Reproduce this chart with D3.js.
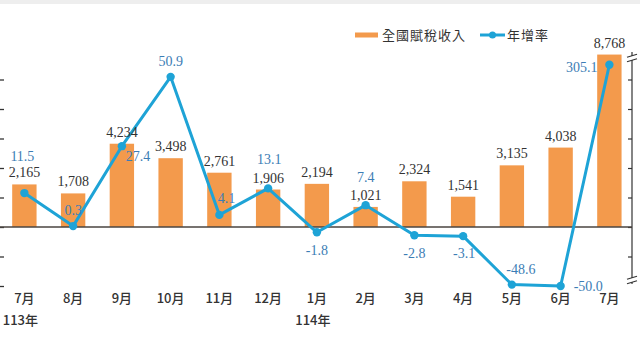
<!DOCTYPE html>
<html><head><meta charset="utf-8">
<script src="https://cdn.jsdelivr.net/npm/d3@7"></script>
<style>
html,body{margin:0;padding:0;background:#fff;}
svg{display:block;}
</style>
</head><body>
<svg id="chart" width="640" height="360"></svg>
<script>
// ---- data ----
const months = ["7月","8月","9月","10月","11月","12月","1月","2月","3月","4月","5月","6月","7月"];
const yearLabels = [{idx:0, text:"113年"}, {idx:6, text:"114年"}];
const revenue = [2165,1708,4234,3498,2761,1906,2194,1021,2324,1541,3135,4038,8768];
const growth  = [11.5,0.3,27.4,50.9,4.1,13.1,-1.8,7.4,-2.8,-3.1,-48.6,-50.0,305.1];
const barTicks = [-3000,-1500,0,1500,3000,4500,6000,7500];
const rateTicks = [-10,0,10,20,30,40,50];
const seriesNames = ["全國賦稅收入","年增率"];

// ---- layout ----
const svg = d3.select("#chart");
const W = 640, H = 360;
const plotTop = 50, plotBottom = 286, axisRightX = 632;
const barColor = "#F39A4C", lineColor = "#1EA3D6", rateText = "#3C7DB5", dark = "#333";

svg.append("rect").attr("x",0).attr("y",0).attr("width",W).attr("height",4).attr("fill","#eeeeee");

const x = d3.scaleBand().domain(d3.range(months.length)).range([0, 633.75]).paddingInner(0.5).paddingOuter(0.25);
const yBar = d3.scaleLinear().domain([-3000, 9000]).range([plotBottom, plotTop]);
const yr = d3.scaleLinear().domain([-20, 60]).range([plotBottom, plotTop]);
// broken rate axis: compressed segments below -5 and above 51
const yRate = d3.scaleLinear().domain([-50, -5, 51, 305.1]).range([yr(-20), yr(-5), yr(51), yr(55)]);
const cx = i => x(i) + x.bandwidth()/2;

// left axis (ticks only visible)
const la = svg.append("g").attr("transform","translate(-1,0)")
  .call(d3.axisRight(yBar).tickValues(barTicks).tickSize(5).tickFormat(""));
la.select(".domain").remove();
la.selectAll("line").attr("stroke","#333").attr("stroke-width",1.3);

// bars
svg.append("g").selectAll("rect").data(revenue).join("rect")
  .attr("x",(d,i)=>x(i)).attr("width",x.bandwidth())
  .attr("y",d=>yBar(d)).attr("height",d=>yBar(0)-yBar(d))
  .attr("fill",barColor);

// right axis
const ra = svg.append("g").attr("transform",`translate(${axisRightX},0)`)
  .call(d3.axisLeft(yr).tickValues(rateTicks).tickSize(4).tickFormat(""));
ra.select(".domain").remove();
ra.selectAll("line").attr("stroke","#333").attr("stroke-width",1.2);
svg.append("line").attr("x1",axisRightX).attr("x2",axisRightX).attr("y1",plotTop+2).attr("y2",plotBottom-2)
  .attr("stroke","#333").attr("stroke-width",1.2);
// break marks
[plotTop+8, plotBottom-6].forEach(by=>{
  svg.append("rect").attr("x",axisRightX-5).attr("y",by-2).attr("width",10).attr("height",4).attr("fill","#fff");
  [-2.2,2.2].forEach(o=>{
    svg.append("line").attr("x1",axisRightX-5).attr("x2",axisRightX+5)
      .attr("y1",by+o+1.5).attr("y2",by+o-1.5).attr("stroke","#333").attr("stroke-width",1.2);
  });
});

// zero line
svg.append("line").attr("x1",0).attr("x2",axisRightX).attr("y1",yBar(0)).attr("y2",yBar(0))
  .attr("stroke","#4a4440").attr("stroke-width",1.6);

// line
const line = d3.line().x((d,i)=>cx(i)).y(d=>yRate(d));
svg.append("path").datum(growth).attr("d",line).attr("fill","none")
  .attr("stroke",lineColor).attr("stroke-width",3).attr("stroke-linejoin","round");
svg.append("g").selectAll("circle").data(growth).join("circle")
  .attr("cx",(d,i)=>cx(i)).attr("cy",d=>yRate(d)).attr("r",4.2).attr("fill",lineColor);

// bar value labels
svg.append("g").selectAll("text").data(revenue).join("text")
  .attr("x",(d,i)=>cx(i)).attr("y",d=>yBar(d)-7)
  .attr("text-anchor","middle").attr("font-family","'Liberation Serif', serif").attr("font-size",14)
  .attr("fill",dark).text(d=>d3.format(",")(d));

// rate labels (placement offsets relative to point)
const rateLabelPlace = [
  [-2,-32,"middle"],[0,-11,"middle"],[16,15,"middle"],[0,-11,"middle"],[7,-12,"middle"],
  [1,-24,"middle"],[0,23,"middle"],[0,-23,"middle"],[0,23,"middle"],[1,22,"middle"],
  [9,-11,"middle"],[13,5,"start"],[-12,7,"end"]];
svg.append("g").selectAll("text").data(growth).join("text")
  .attr("x",(d,i)=>cx(i)+rateLabelPlace[i][0]).attr("y",(d,i)=>yRate(d)+rateLabelPlace[i][1])
  .attr("text-anchor",(d,i)=>rateLabelPlace[i][2])
  .attr("font-family","'Liberation Serif', serif").attr("font-size",14)
  .attr("fill",rateText).text(d=>d.toFixed(1));

// month labels
svg.append("g").selectAll("text").data(months).join("text")
  .attr("x",(d,i)=>cx(i)).attr("y",303)
  .attr("text-anchor","middle").attr("font-family","'Noto Sans CJK TC', sans-serif").attr("font-size",13)
  .attr("font-weight",500).attr("fill",dark).text(d=>d);
svg.append("g").selectAll("text").data(yearLabels).join("text")
  .attr("x",d=>cx(d.idx)-4).attr("y",325)
  .attr("text-anchor","middle").attr("font-family","'Noto Sans CJK TC', sans-serif").attr("font-size",13)
  .attr("font-weight",500).attr("fill",dark).text(d=>d.text);

// legend
const lg = svg.append("g");
lg.append("rect").attr("x",355).attr("y",32.5).attr("width",23).attr("height",5).attr("fill",barColor);
lg.append("text").attr("x",382).attr("y",40).attr("font-family","'Noto Sans CJK TC', sans-serif")
  .attr("font-size",13).attr("letter-spacing",1).attr("fill",dark).text(seriesNames[0]);
lg.append("line").attr("x1",480).attr("x2",505).attr("y1",35).attr("y2",35).attr("stroke",lineColor).attr("stroke-width",3);
lg.append("circle").attr("cx",492.5).attr("cy",35).attr("r",3.5).attr("fill",lineColor);
lg.append("text").attr("x",507).attr("y",40).attr("font-family","'Noto Sans CJK TC', sans-serif")
  .attr("font-size",13).attr("letter-spacing",1).attr("fill",dark).text(seriesNames[1]);
</script>
</body></html>
